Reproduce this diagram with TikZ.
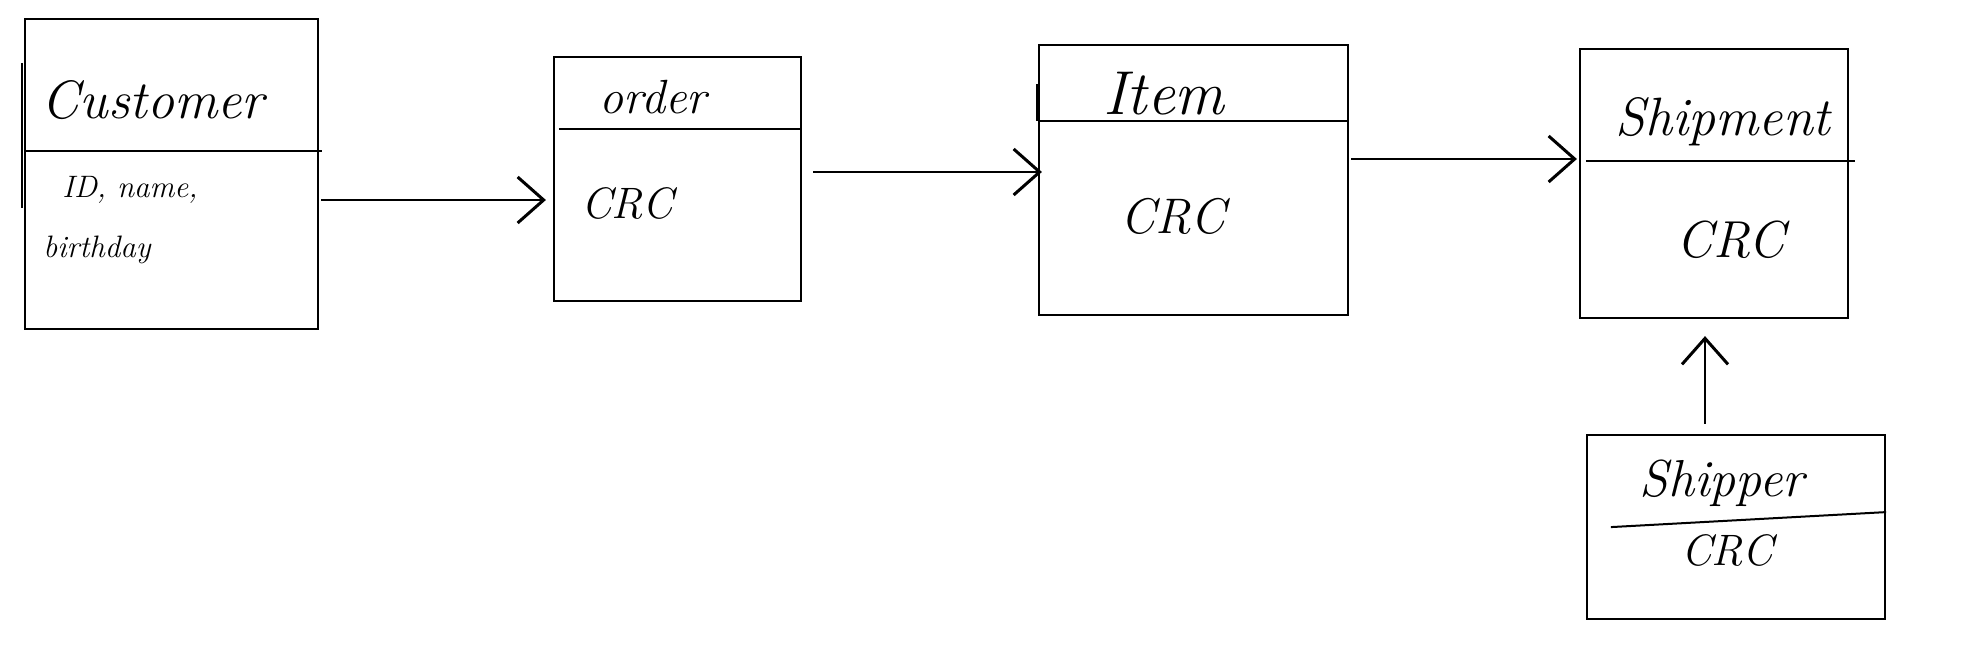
\documentclass[tikz,border=0pt]{standalone}
\usetikzlibrary{arrows.meta,calc}
\begin{document}
\begin{tikzpicture}[x=1pt,y=1pt,
  box/.style={draw=black,line width=2.2pt,rectangle,inner sep=0pt},
  divline/.style={line width=2pt},
  conn/.style={line width=2.4pt,-{Straight Barb[length=26pt,width=46pt,line width=3pt]}},
  title/.style={font=\fontsize{50}{54}\selectfont\itshape},
  crc/.style={font=\fontsize{44}{48}\selectfont\itshape},
  attr/.style={font=\fontsize{31}{34}\selectfont\itshape,align=left}]
\useasboundingbox[fill=white] (0,0) rectangle (1961,650);
% boxes
\node[box,minimum width=293pt,minimum height=310pt] (cust) at (171.5,476) {};
\node[box,minimum width=247pt,minimum height=244pt] (order) at (677.5,471) {};
\node[box,minimum width=309pt,minimum height=270pt] (item) at (1193.5,470) {};
\node[box,minimum width=268pt,minimum height=269pt] (ship) at (1714,466.5) {};
\node[box,minimum width=298pt,minimum height=184pt] (shipper) at (1736,123) {};
% dividers
\draw[divline] ($(cust.north west)+(0,-133)$) -- ($(cust.north east)+(3,-133)$);
\draw[line width=2pt] ($(cust.north west)+(-2,-45)$) -- ($(cust.north west)+(-2,-190)$);
\draw[divline] ($(order.north west)+(6,-73)$) -- ($(order.north east)+(0,-73)$);
\draw[divline] ($(item.north west)+(0,-77.5)$) -- ($(item.north east)+(-2,-77.5)$);
\draw[line width=2pt] ($(item.north west)+(-1,-40)$) -- ($(item.north west)+(-1,-77.5)$);
\draw[divline] ($(ship.north west)+(7,-113)$) -- ($(ship.north east)+(6,-113)$);
\draw[divline] ($(shipper.south west)+(25,93)$) -- ($(shipper.south east)+(0,108)$);
% texts
\node[title,font=\fontsize{54}{58}\selectfont\itshape] (tcust) at (153,550) {Customer};
\node[attr] (acust1) at (130,460) {ID, name,};
\node[attr] (acust2) at (97,400) {birthday};
\node[title,font=\fontsize{48}{52}\selectfont\itshape] (torder) at (653,553) {order};
\node[crc] (corder) at (627,447) {CRC};
\node[title,font=\fontsize{62}{66}\selectfont\itshape] (titem) at (1164,556) {Item};
\node[crc,font=\fontsize{50}{54}\selectfont\itshape] (citem) at (1173,434) {CRC};
\node[title,font=\fontsize{54}{58}\selectfont\itshape] (tship) at (1723,528) {Shipment};
\node[crc,font=\fontsize{52}{56}\selectfont\itshape] (cship) at (1731,410) {CRC};
\node[title,font=\fontsize{52}{56}\selectfont\itshape] (tshipper) at (1722,167) {Shipper};
\node[crc] (cshipper) at (1727,100) {CRC};
% connectors
\draw[conn] ([xshift=2pt,yshift=-26pt]cust.east) -- ([xshift=-7pt,yshift=-21pt]order.west);
\draw[conn] ([xshift=11pt,yshift=7pt]order.east) -- ([xshift=4pt,yshift=8pt]item.west);
\draw[conn] ([xshift=2pt,yshift=21pt]item.east) -- ([xshift=-2pt,yshift=24.5pt]ship.west);
\draw[conn] ([xshift=-31pt,yshift=10pt]shipper.north) -- ([xshift=-9pt,yshift=-17pt]ship.south);
\end{tikzpicture}
\end{document}
